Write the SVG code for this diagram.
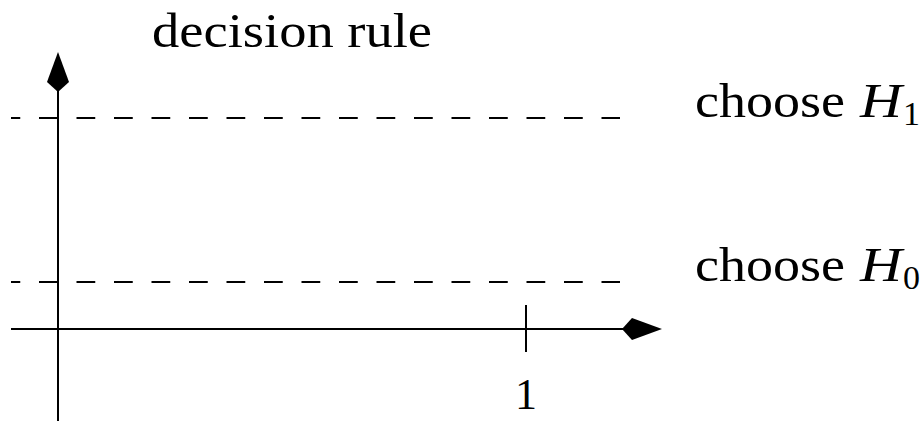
<svg xmlns="http://www.w3.org/2000/svg" width="922" height="421" viewBox="0 0 922 421">
<style>
.ax{stroke:#000;stroke-width:2;fill:none}
.dash{stroke:#000;stroke-width:2;fill:none;stroke-dasharray:18.75 18.75;stroke-dashoffset:9.5}
.t{font-family:"Liberation Serif","Times New Roman",serif;font-size:48px;fill:#000}
.it{font-style:italic}
.sub{font-size:34px}
.head{fill:#000;stroke:none}
</style>
<defs>
<path id="ah" d="M0,0 L-30,-11 L-40,0 L-30,11 Z"/>
</defs>
<rect width="922" height="421" fill="#fff"/>
<g id="axes">
<line class="ax" x1="58" y1="421" x2="58" y2="88"/>
<line class="ax" x1="11" y1="329" x2="628" y2="329"/>
<use href="#ah" class="head" transform="translate(58,52) rotate(-90)"/>
<use href="#ah" class="head" transform="translate(662,329)"/>
<line class="ax" x1="526" y1="305" x2="526" y2="352"/>
</g>
<g id="thresholds">
<line class="dash" x1="11" y1="118" x2="620" y2="118"/>
<line class="dash" x1="11" y1="282" x2="620" y2="282"/>
</g>
<g id="labels">
<text class="t" x="152" y="47" textLength="280" lengthAdjust="spacingAndGlyphs">decision rule</text>
<text class="t" x="526" y="409" text-anchor="middle" style="font-size:44px">1</text>
<g id="h1">
<text class="t" x="695" y="117" textLength="150" lengthAdjust="spacingAndGlyphs">choose</text>
<text class="t it" x="860" y="117" textLength="42" lengthAdjust="spacingAndGlyphs">H</text>
<text class="t sub" x="903" y="125">1</text>
</g>
<g id="h0">
<text class="t" x="695" y="281" textLength="150" lengthAdjust="spacingAndGlyphs">choose</text>
<text class="t it" x="860" y="281" textLength="42" lengthAdjust="spacingAndGlyphs">H</text>
<text class="t sub" x="903" y="289">0</text>
</g>
</g>
</svg>
